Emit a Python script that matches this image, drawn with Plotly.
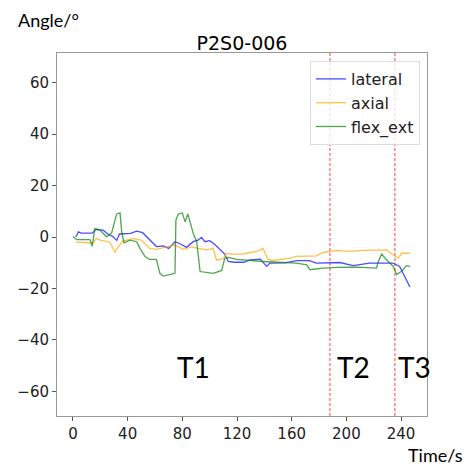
import plotly.graph_objects as go

# lateral
lat_t = [2, 4, 6, 10, 14, 17, 22, 26, 29, 32, 34, 42, 46.6, 51, 55, 61, 66, 70, 74.6, 78, 83, 88, 91.5, 94, 96.6, 100, 104, 107.5, 111, 113.6, 118, 125, 129.5,
         137, 141.7, 144, 150, 155, 163.6, 173, 178, 195, 205, 217, 234, 239, 246.5]
lat_y = [0, 2, 1.5, 1.5, 1.5, 3, 2.7, 1, 0.3, -1.3, 1.2, 1.4, 2.3, 1.7, -0.5, -3.7, -3.4, -4.4, -1.8, -2.5, -4, -1.8, -1.2, -0.1, -1.8, -1.4, -3, -5, -6.6, -9.5, -9.8, -9.8, -8.9,
         -8.6, -11.4, -10.1, -10, -10, -9.2, -9.2, -10.1, -9.9, -11.1, -10.1, -10.1, -11.4, -19.4]

# axial
ax_t = [2, 14.6, 17, 20, 27, 30.7, 33, 36.6, 44, 50, 56, 61, 68.5, 74.6, 80.6, 86.8, 91.5, 97.8, 102.6, 105, 110, 112.4, 118, 124, 129.5,
        134, 139, 142.6, 146, 158.7, 163.6, 178, 183, 193, 202.6, 212, 229.5, 234, 238, 240.4, 246.5]
ax_y = [-2, -2.3, -0.6, -1.2, -2, -5.8, -3.9, -1.5, -0.6, -1.2, -4.4, -4.8, -3.8, -3.1, -4.8, -3.8, -4.4, -5, -4.4, -9, -8.4, -6.4, -6.6, -6.6, -6,
        -5.7, -4.4, -8.6, -9.1, -8.2, -7.5, -7.3, -6, -5.2, -5.6, -5.2, -5, -6.9, -8.2, -6.3, -6.3]

# flex_ext
fe_t = [0, 2.7, 12.4, 14, 16, 19.7, 24.6, 28.3, 30.7, 32, 34.4, 35.6, 37.3, 41.7, 46.6, 49, 52.7, 56, 61, 63.6, 66, 74.6, 75.3, 77, 80, 82, 84, 88, 90.5, 91.5, 93,
        102.6, 108.8, 111, 113.6, 119.7, 129.5, 139, 163.6, 171, 173.4, 183, 193, 207.5, 222, 223.4, 225.8, 229.5, 234.3, 236.8, 240.4, 244, 246.5]
fe_y = [0.2, -1, -1, -3.6, 3.3, 2.7, 0.1, 1.6, 6.6, 9, 9.4, 2.1, -2.2, -1.2, -1.8, -4.4, -7.6, -8.7, -8.7, -14.1, -15.2, -14.1, 6.6, 9, 9.4, 5.9, 9, 1.4, -1.8, -7.6, -13.4,
        -14.1, -13, -8.3, -7.9, -8.7, -9.2, -9.5, -10.1, -10.8, -12.7, -12.1, -11.8, -11.7, -12.1, -9.5, -6.6, -8.9, -11.4, -14.6, -13.3, -11.1, -11.4]

x_ticks = [0, 40, 80, 120, 160, 200, 240]
y_ticks = [-60, -40, -20, 0, 20, 40, 60]
split_times = [188, 235.5]
phase_labels = ["T1", "T2", "T3"]
phase_x = [74.5, 191.5, 236]

PL, PR, PT, PB = 57, 42, 53, 54
PW, PH = 469 - PL - PR, 470 - PT - PB

fig = go.Figure()
fig.add_trace(go.Scatter(x=lat_t, y=lat_y, mode="lines", name="lateral",
                         line=dict(color="rgba(0,0,255,0.7)", width=1.3)))
fig.add_trace(go.Scatter(x=ax_t, y=ax_y, mode="lines", name="axial",
                         line=dict(color="rgba(255,165,0,0.7)", width=1.3)))
fig.add_trace(go.Scatter(x=fe_t, y=fe_y, mode="lines", name="flex_ext",
                         line=dict(color="rgba(0,128,0,0.7)", width=1.3)))

for t in split_times:
    fig.add_shape(type="line", x0=t, x1=t, y0=0, y1=1, xref="x", yref="y domain",
                  layer="below",
                  line=dict(color="rgba(255,0,0,0.75)", width=1, dash="3px,2px"))

for lbl, px in zip(phase_labels, phase_x):
    fig.add_annotation(x=px, y=-50.6, text=lbl, showarrow=False, xref="x", yref="y",
                       xanchor="left", yanchor="middle",
                       font=dict(family="Lato, Open Sans, sans-serif", size=28, color="black"))

fig.add_annotation(x=(16 - PL) / PW, y=1 + (PT - 20) / PH, xref="paper", yref="paper", text="Angle/°",
                   showarrow=False, xanchor="left", yanchor="middle",
                   font=dict(family="Lato, Open Sans, sans-serif", size=18, color="black"))
fig.add_annotation(x=(406 - PL) / PW, y=-(455 - (470 - PB)) / PH, xref="paper", yref="paper", text="Time/s",
                   showarrow=False, xanchor="left", yanchor="middle",
                   font=dict(family="Lato, Open Sans, sans-serif", size=18, color="black"))

fig.update_layout(
    width=469, height=470,
    margin=dict(l=PL, r=PR, t=PT, b=PB),
    paper_bgcolor="white", plot_bgcolor="white",
    title=dict(text="P2S0-006", x=0.5, xref="paper", y=1 - 43/470, yanchor="middle",
               font=dict(family="DejaVu Sans", size=19, color="black")),
    font=dict(family="DejaVu Sans", size=15, color="#222"),
    legend=dict(x=(420 - PL) / PW, y=1 - (61 - PT) / PH, xanchor="right", yanchor="top",
                bgcolor="rgba(255,255,255,0.8)", bordercolor="#dddddd", borderwidth=1,
                font=dict(family="DejaVu Sans", size=16, color="#222")),
    showlegend=True,
)
fig.update_xaxes(range=[-11.7, 259], tickvals=x_ticks, ticks="outside", ticklen=4,
                 showgrid=False, zeroline=False, showline=True, linecolor="#999",
                 linewidth=1, mirror=True, tickcolor="#555")
fig.update_yaxes(range=[-69.6, 71.6], tickvals=y_ticks, ticks="outside", ticklen=4,
                 showgrid=False, zeroline=False, showline=True, linecolor="#999",
                 linewidth=1, mirror=True, tickcolor="#555")

fig.write_html("out.html")
